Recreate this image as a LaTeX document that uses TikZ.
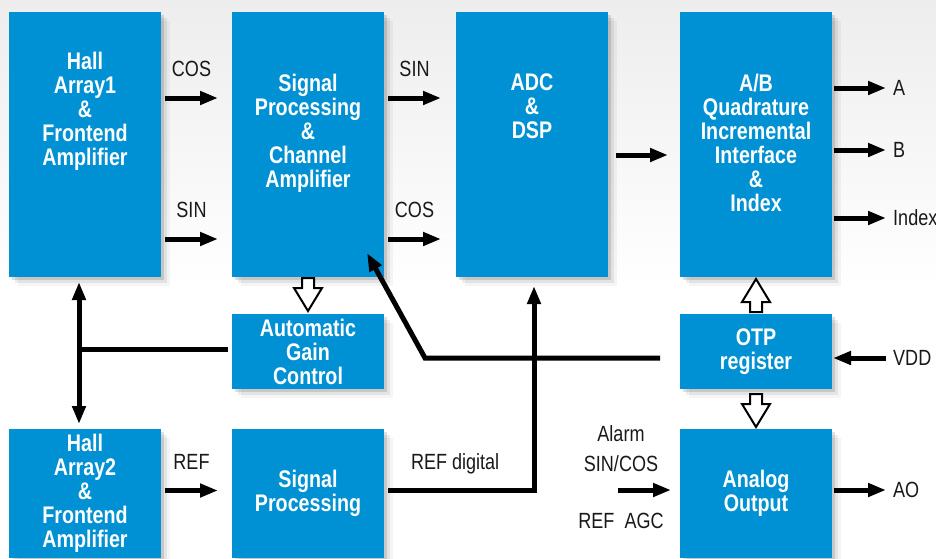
\documentclass[tikz,border=0pt]{standalone}
\usepackage{fontspec}
\newfontfamily\nfont{Liberation Sans}[FakeStretch=0.82]
\usetikzlibrary{positioning,calc,shadows,arrows.meta}
\definecolor{tiblue}{RGB}{0,145,213}
\tikzset{
  sh/.style={drop shadow={shadow xshift=3pt,shadow yshift=-3pt,fill=black,opacity=.12},
             drop shadow={shadow xshift=6pt,shadow yshift=-6pt,fill=black,opacity=.07},
             drop shadow={shadow xshift=9pt,shadow yshift=-9pt,fill=black,opacity=.04}},
  bx/.style={rectangle, fill=tiblue, text=white, minimum width=152pt, inner sep=0pt, outer sep=0pt, align=center, font={\nfont\bfseries\fontsize{24}{24}\selectfont}, sh},
  big/.style={bx, minimum height=265pt},
  mid/.style={bx, minimum height=75pt},
  low/.style={bx, minimum height=129pt},
  btxt/.style={text=white, inner sep=0pt, align=center, font={\nfont\bfseries\fontsize{24}{24}\selectfont}},
  lbl/.style={inner sep=0pt, text=black!90, font={\nfont\fontsize{22}{30}\selectfont}},
  arr/.style={line width=5pt, -{Triangle[length=18pt,width=13pt]}},
  dbl/.style={line width=5pt, {Triangle[length=18pt,width=13pt]}-{Triangle[length=18pt,width=13pt]}},
  ln/.style={line width=5pt},
  hol/.pic={\draw[line width=2pt, fill=white, line join=miter] (-6,0) -- (-6,-10) -- (-14,-10) -- (0,-33) -- (14,-10) -- (6,-10) -- (6,0) -- cycle;},
  node distance=71pt
}
\begin{document}
\begin{tikzpicture}[x=1pt, y=1pt]
	\fill[top color=black!7, bottom color=white] (0,0) rectangle (936,-290);
	\useasboundingbox (0,0) rectangle (936,-558);

	\node[big, anchor=north west, label={[btxt, below=40pt]north:Hall\\Array1\\\&\\Frontend\\Amplifier}] (ha1) at (9,-12) {};
	\node[big, right=of ha1, label={[btxt, below=62pt]north:Signal\\Processing\\\&\\Channel\\Amplifier}] (sp) {};
	\node[big, right=72pt of sp, label={[btxt, below=62pt]north:ADC\\\&\\DSP}] (adc) {};
	\node[big, right=72pt of adc, label={[btxt, below=62pt]north:A/B\\Quadrature\\Incremental\\Interface\\\&\\Index}] (ab) {};
	\node[mid, below=37pt of sp] (agc) {Automatic\\Gain\\Control};
	\node[mid, below=37pt of ab] (otp) {OTP\\register};
	\node[low, below=152pt of ha1] (ha2) {Hall\\Array2\\\&\\Frontend\\Amplifier};
	\node[low, below=40pt of agc] (sp2) {Signal\\Processing};
	\node[low, below=40pt of otp] (ao) {Analog\\Output};

	% signal path
	\draw[arr] ([xshift=4pt,yshift=-86pt]ha1.north east) -- ([xshift=-14pt,yshift=-86pt]sp.north west) node[lbl, midway, above=19pt] (lc1) {COS};
	\draw[arr] ([xshift=4pt,yshift=-227pt]ha1.north east) -- ([xshift=-14pt,yshift=-227pt]sp.north west) node[lbl, midway, above=19pt] (ls1) {SIN};
	\draw[arr] ([xshift=4pt,yshift=-86pt]sp.north east) -- ([xshift=-15pt,yshift=-86pt]adc.north west) node[lbl, midway, above=19pt] (ls2) {SIN};
	\draw[arr] ([xshift=4pt,yshift=-227pt]sp.north east) -- ([xshift=-15pt,yshift=-227pt]adc.north west) node[lbl, midway, above=19pt] (lc2) {COS};
	\draw[arr] ([xshift=8pt,yshift=-143pt]adc.north east) -- ([xshift=-12pt,yshift=-143pt]ab.north west);
	\draw[arr] ([xshift=4pt,yshift=3pt]ha2.east) -- ([xshift=-14pt,yshift=3pt]sp2.west) node[lbl, midway, above=19pt] (lref) {REF};
	\draw[arr] ([xshift=4pt,yshift=3.5pt]sp2.east) -| ([xshift=2pt,yshift=-9pt]adc.south) node[lbl, pos=.23, anchor=base, yshift=20.5pt] (lrd) {REF digital};

	% outputs
	\node[lbl, anchor=west] (oa) at ([xshift=61pt,yshift=-76pt]ab.north east) {A};
	\node[lbl, anchor=west] (ob) at ([xshift=61pt,yshift=-138pt]ab.north east) {B};
	\node[lbl, anchor=west] (oi) at ([xshift=61pt,yshift=-206pt]ab.north east) {Index};
	\foreach \o in {oa,ob,oi}
		\draw[arr, shorten >=7pt] ([xshift=2pt]ab.east |- \o) -- (\o.west);
	\node[lbl, anchor=west] (lao) at ([xshift=61pt,yshift=3.5pt]ao.east) {AO};
	\draw[arr, shorten >=7pt] ([xshift=2pt]ao.east |- lao) -- (lao.west);
	\node[lbl, anchor=west] (vdd) at ([xshift=61pt,yshift=-6.5pt]otp.east) {VDD};
	\draw[arr, shorten <=7pt] (vdd.west) -- ([xshift=1pt]otp.east |- vdd);

	% gain control and OTP
	\draw[dbl] ([xshift=-6pt,yshift=-5pt]ha1.south) -- ([xshift=-6pt,yshift=5pt]ha2.north);
	\draw[ln] ([xshift=-4pt,yshift=2.5pt]agc.west) -- ($(ha1.south |- agc.west)+(-8.5,2.5)$);
	\coordinate (ot) at ([xshift=-20pt,yshift=-6.5pt]otp.west);
	\draw[arr, line join=miter] (ot) -- ($(agc.east |- ot)+(41,0)$) -- ([xshift=-17pt,yshift=24pt]sp.south east);
	\pic at ([yshift=-1pt]sp.south) {hol};
	\pic[rotate=180] at ([yshift=2pt]otp.north) {hol};
	\pic at ([yshift=-5pt]otp.south) {hol};

	% analog inputs
	\coordinate (ain) at ([xshift=-62pt,yshift=3.5pt]ao.west);
	\draw[arr] (ain) -- ([xshift=-9pt]ao.west |- ain);
	\node[lbl, align=center, anchor=south] (lal) at ([xshift=3pt,yshift=18pt]ain) {Alarm\\SIN/COS};
	\node[lbl, anchor=north] (lra) at ([xshift=3pt,yshift=-23pt]ain) {REF~~AGC};
\end{tikzpicture}
\end{document}
